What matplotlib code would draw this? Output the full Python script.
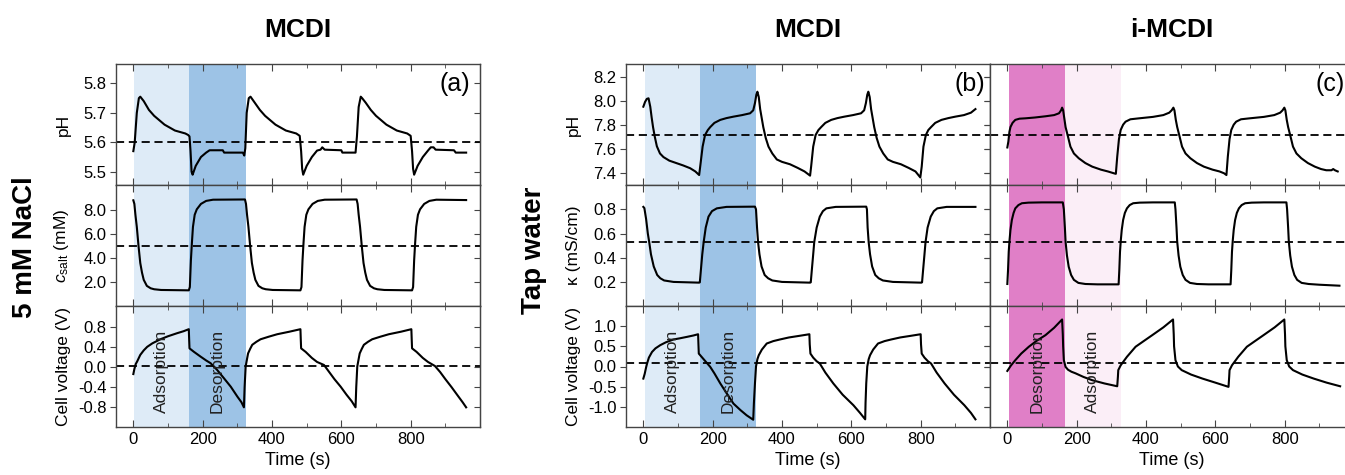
import matplotlib
matplotlib.use("Agg")
import matplotlib.pyplot as plt
from matplotlib.ticker import FixedLocator, FormatStrFormatter

plt.rcParams['font.family'] = ['Liberation Sans', 'DejaVu Sans']
plt.rcParams['axes.unicode_minus'] = False
plt.rcParams['mathtext.fontset'] = 'custom'
plt.rcParams['mathtext.rm'] = 'Liberation Sans'
plt.rcParams['mathtext.it'] = 'Liberation Sans:italic'

# ---------------- data ----------------
# (a) MCDI, 5 mM NaCl
t_ph_a = [0, 4, 10, 16, 20, 30, 45, 60, 75, 90, 105, 120, 135, 150, 158, 162, 165, 168, 171,
          180, 195, 210, 220, 258, 262, 316, 320, 323, 327, 333, 338,
          350, 365, 380, 395, 410, 425, 440, 455, 470, 480, 484, 487, 490, 500, 515, 530, 540,
          545, 552, 600, 603, 641, 645, 650, 656,
          660, 670, 685, 700, 715, 730, 745, 760, 775, 790, 800, 804, 807, 810, 820, 835, 850,
          858, 866, 872, 925, 930, 960]
ph_a = [5.57, 5.60, 5.70, 5.75, 5.755, 5.74, 5.71, 5.69, 5.675, 5.66, 5.65, 5.64, 5.635, 5.63,
        5.625, 5.62, 5.57, 5.50, 5.49, 5.52, 5.55, 5.565, 5.573, 5.573, 5.565, 5.565, 5.555,
        5.58, 5.70, 5.75, 5.755,
        5.735, 5.71, 5.69, 5.675, 5.66, 5.65, 5.64, 5.635, 5.63, 5.622, 5.57, 5.51, 5.49, 5.52,
        5.55, 5.572, 5.575, 5.583, 5.575, 5.573, 5.565, 5.565, 5.62, 5.72, 5.755,
        5.75, 5.735, 5.71, 5.69, 5.675, 5.66, 5.65, 5.64, 5.635, 5.63, 5.622, 5.57, 5.51, 5.49,
        5.52, 5.55, 5.572, 5.583, 5.583, 5.575, 5.573, 5.565, 5.565]

t_c_a = [0, 3, 6, 10, 15, 20, 25, 30, 39, 50, 60, 80, 160,
         163, 166, 169, 172, 177, 183, 195, 210, 230, 322,
         325, 328, 332, 337, 342, 347, 352, 361, 372, 382, 402, 482,
         485, 488, 491, 494, 499, 505, 517, 532, 552, 644,
         647, 650, 654, 659, 664, 669, 674, 683, 694, 704, 724, 804,
         807, 810, 813, 816, 821, 827, 839, 854, 874, 960]
c_a = [8.8, 8.5, 7.6, 6.6, 5.0, 3.6, 2.8, 2.2, 1.7, 1.5, 1.42, 1.36, 1.33,
       1.6, 3.8, 5.3, 6.6, 7.6, 8.05, 8.5, 8.75, 8.85, 8.87,
       8.5, 7.6, 6.6, 5.0, 3.6, 2.8, 2.2, 1.7, 1.5, 1.42, 1.36, 1.33,
       1.6, 3.8, 5.3, 6.6, 7.6, 8.05, 8.5, 8.75, 8.85, 8.87,
       8.5, 7.6, 6.6, 5.0, 3.6, 2.8, 2.2, 1.7, 1.5, 1.42, 1.36, 1.33,
       1.6, 3.8, 5.3, 6.6, 7.6, 8.05, 8.5, 8.75, 8.85, 8.82]

t_v_a = [0, 3, 7, 11, 20, 30, 40, 55, 78, 100, 126, 145, 160, 161, 162,
         175, 194, 210, 223, 242, 261, 281, 300, 312, 319,
         321, 324, 328, 331, 337, 343, 355, 367, 390, 415, 450, 482, 483, 484,
         497, 515, 530, 550, 565, 580, 598, 615, 630, 641,
         643, 646, 650, 653, 659, 665, 677, 689, 712, 737, 772, 802, 803, 804,
         817, 835, 850, 870, 885, 900, 918, 935, 950, 960]
v_a = [-0.14, -0.04, 0.06, 0.11, 0.24, 0.33, 0.40, 0.47, 0.55, 0.61, 0.67, 0.71, 0.75, 0.55, 0.37,
       0.30, 0.206, 0.13, 0.075, -0.06, -0.22, -0.39, -0.586, -0.70, -0.80,
       -0.40, 0.01, 0.16, 0.27, 0.36, 0.44, 0.50, 0.55, 0.60, 0.65, 0.70, 0.75, 0.55, 0.37,
       0.30, 0.18, 0.10, 0.04, -0.10, -0.24, -0.39, -0.55, -0.68, -0.80,
       -0.40, 0.01, 0.16, 0.27, 0.36, 0.44, 0.50, 0.55, 0.60, 0.65, 0.70, 0.75, 0.55, 0.37,
       0.30, 0.18, 0.10, 0.02, -0.10, -0.24, -0.40, -0.56, -0.70, -0.80]

# (b) MCDI, tap water
t_ph_b = [0, 5, 10, 15, 20, 24, 28, 33, 39, 48, 58, 75, 97, 115, 135, 150, 161,
          164, 171, 178, 186, 193, 205, 222, 240, 260, 285, 308, 317, 322, 326, 329, 333,
          337, 346, 353, 361, 372, 385, 400, 423, 445, 465, 481,
          484, 490, 497, 505, 513, 525, 542, 560, 580, 605, 628, 637, 642, 646, 649, 653,
          657, 666, 673, 681, 692, 705, 720, 743, 765, 785, 799,
          803, 808, 815, 822, 830, 842, 860, 880, 900, 925, 945, 958]
ph_b = [7.95, 7.99, 8.015, 8.02, 7.95, 7.86, 7.78, 7.70, 7.62, 7.56, 7.53, 7.50, 7.478, 7.46,
        7.437, 7.41, 7.38,
        7.45, 7.617, 7.714, 7.755, 7.78, 7.815, 7.84, 7.855, 7.867, 7.88, 7.895, 7.92, 7.98,
        8.05, 8.075, 8.03,
        7.93, 7.78, 7.69, 7.617, 7.56, 7.51, 7.49, 7.47, 7.44, 7.41, 7.375,
        7.45, 7.617, 7.714, 7.755, 7.78, 7.815, 7.84, 7.855, 7.867, 7.88, 7.895, 7.92, 7.98,
        8.05, 8.075, 8.03,
        7.93, 7.78, 7.69, 7.617, 7.56, 7.51, 7.49, 7.47, 7.44, 7.41, 7.36,
        7.45, 7.617, 7.714, 7.755, 7.78, 7.815, 7.84, 7.855, 7.867, 7.88, 7.90, 7.93]

t_k_b = [0, 3, 8, 13, 17, 22, 30, 40, 49, 60, 87, 161,
         163, 166, 170, 174, 180, 188, 198, 212, 240, 322,
         325, 328, 331, 335, 341, 350, 360, 372, 400, 481,
         483, 486, 490, 493, 500, 509, 518, 528, 555, 643,
         645, 647, 650, 654, 660, 669, 679, 691, 720, 802,
         804, 807, 811, 814, 820, 829, 838, 848, 875, 958]
k_b = [0.82, 0.81, 0.72, 0.60, 0.53, 0.43, 0.33, 0.26, 0.233, 0.215, 0.203, 0.197,
       0.20, 0.30, 0.43, 0.53, 0.65, 0.74, 0.785, 0.808, 0.82, 0.822,
       0.80, 0.65, 0.53, 0.43, 0.33, 0.26, 0.233, 0.215, 0.203, 0.197,
       0.20, 0.30, 0.43, 0.53, 0.65, 0.74, 0.785, 0.808, 0.82, 0.822,
       0.80, 0.65, 0.53, 0.43, 0.33, 0.26, 0.233, 0.215, 0.203, 0.197,
       0.20, 0.30, 0.43, 0.53, 0.65, 0.74, 0.785, 0.808, 0.82, 0.82]

t_v_b = [0, 4, 8, 11, 16, 25, 35, 49, 65, 87, 106, 126, 145, 158, 159, 160,
         170, 180, 193, 205, 222, 240, 260, 280, 298, 310, 317,
         319, 322, 325, 329, 333, 342, 356, 375, 394, 420, 450, 479, 480, 482,
         490, 500, 509, 525, 548, 575, 606, 625, 640,
         641, 643, 646, 650, 654, 663, 677, 696, 715, 741, 771, 800, 801, 803,
         811, 821, 830, 846, 869, 896, 926, 945, 958]
v_b = [-0.30, -0.18, -0.02, 0.08, 0.22, 0.36, 0.45, 0.53, 0.60, 0.67, 0.70, 0.735, 0.77, 0.80,
       0.55, 0.32,
       0.22, 0.12, -0.01, -0.17, -0.42, -0.66, -0.92, -1.08, -1.21, -1.28, -1.32,
       -0.90, -0.42, 0.0, 0.18, 0.28, 0.42, 0.57, 0.63, 0.67, 0.72, 0.76, 0.80, 0.55, 0.32,
       0.22, 0.13, 0.075, -0.15, -0.42, -0.70, -0.96, -1.15, -1.31,
       -0.90, -0.42, 0.0, 0.18, 0.28, 0.42, 0.57, 0.63, 0.67, 0.72, 0.76, 0.80, 0.55, 0.32,
       0.22, 0.13, 0.075, -0.15, -0.42, -0.70, -0.96, -1.15, -1.31]

# (c) i-MCDI, tap water
t_ph_c = [0, 3, 6, 9, 15, 23, 35, 52, 80, 110, 135, 149, 155, 158,
          161, 165, 168, 175, 182, 192, 206, 225, 245, 270, 290, 307, 313,
          317, 322, 327, 334, 341, 355, 380, 420, 450, 467, 474, 479,
          482, 486, 490, 497, 504, 514, 528, 547, 567, 592, 612, 625, 632,
          636, 641, 646, 653, 660, 674, 699, 740, 770, 787, 794, 799,
          802, 806, 810, 817, 824, 834, 848, 867, 887, 905, 920, 935, 940, 945, 953]
ph_c = [7.61, 7.66, 7.74, 7.78, 7.815, 7.84, 7.85, 7.853, 7.86, 7.87, 7.88, 7.895, 7.92, 7.942,
        7.92, 7.84, 7.78, 7.70, 7.617, 7.56, 7.52, 7.48, 7.45, 7.425, 7.41, 7.395, 7.39,
        7.533, 7.68, 7.756, 7.80, 7.825, 7.845, 7.853, 7.865, 7.88, 7.90, 7.92, 7.942,
        7.92, 7.84, 7.78, 7.70, 7.617, 7.56, 7.52, 7.48, 7.45, 7.425, 7.41, 7.395, 7.38,
        7.533, 7.68, 7.756, 7.80, 7.825, 7.845, 7.853, 7.865, 7.88, 7.90, 7.92, 7.942,
        7.92, 7.84, 7.78, 7.70, 7.617, 7.56, 7.52, 7.48, 7.45, 7.43, 7.42, 7.42, 7.43, 7.42, 7.41]

t_k_c = [0, 2, 4, 6, 9, 13, 18, 23, 32, 42, 61, 100, 160,
         163, 166, 168, 172, 177, 184, 192, 205, 225, 260, 321,
         323, 325, 327, 330, 334, 339, 345, 353, 363, 382, 420, 483,
         485, 488, 490, 494, 499, 506, 514, 527, 547, 580, 644,
         646, 648, 650, 653, 657, 662, 668, 676, 686, 705, 740, 805,
         807, 810, 812, 816, 821, 828, 836, 849, 869, 900, 958]
k_c = [0.186, 0.30, 0.45, 0.534, 0.63, 0.712, 0.77, 0.808, 0.835, 0.85, 0.855, 0.857, 0.857,
       0.80, 0.65, 0.534, 0.42, 0.328, 0.26, 0.22, 0.195, 0.186, 0.183, 0.183,
       0.30, 0.45, 0.534, 0.63, 0.712, 0.77, 0.808, 0.835, 0.85, 0.855, 0.857, 0.857,
       0.80, 0.65, 0.534, 0.42, 0.328, 0.26, 0.22, 0.195, 0.186, 0.183, 0.183,
       0.30, 0.45, 0.534, 0.63, 0.712, 0.77, 0.808, 0.835, 0.85, 0.855, 0.857, 0.857,
       0.80, 0.65, 0.534, 0.42, 0.328, 0.26, 0.22, 0.195, 0.186, 0.18, 0.172]

t_v_c = [0, 10, 23, 40, 62, 85, 110, 135, 158, 160, 161, 163,
         168, 175, 185, 197, 220, 245, 280, 317,
         319, 320, 327, 345, 370, 395, 418, 450, 478, 480, 481, 485,
         492, 503, 530, 563, 600, 638,
         640, 641, 648, 666, 691, 716, 739, 771, 799, 801, 802, 806,
         813, 824, 851, 884, 921, 960]
v_c = [-0.11, 0.02, 0.157, 0.32, 0.49, 0.64, 0.777, 0.96, 1.166, 0.80, 0.50, 0.157,
       -0.01, -0.08, -0.13, -0.17, -0.26, -0.34, -0.42, -0.49,
       -0.25, -0.09, 0.03, 0.24, 0.49, 0.64, 0.777, 0.97, 1.166, 0.80, 0.50, 0.157,
       0.0, -0.09, -0.20, -0.30, -0.40, -0.505,
       -0.25, -0.09, 0.03, 0.24, 0.49, 0.64, 0.777, 0.97, 1.166, 0.80, 0.50, 0.157,
       0.0, -0.09, -0.20, -0.30, -0.40, -0.49]

# phase boundaries (s) and dashed reference levels
edges_a = [3, 162, 324]
edges_b = [6, 164, 325]
edges_c = [6, 165, 327]
ref_a = [5.6, 5.05, 0.02]
ref_bc = [7.71, 0.53, 0.09]

phase_a = ["Adsorption", "Desorption"]
phase_c = ["Desorption", "Adsorption"]

xticks_major = [0, 200, 400, 600, 800]
xticks_minor = [100, 300, 500, 700, 900]

# ---------------- figure ----------------
W, H = 1345, 475
fig = plt.figure(figsize=(W / 100, H / 100), dpi=100)

LIGHT_BLUE = '#deebf7'
DARK_BLUE = '#9dc3e6'
MAGENTA = '#e07fc7'
PINK = '#fbeef7'
SPINE = '#444444'

col_x = [116, 626, 990]
row_top = [64, 185, 306]
ax_w, ax_h = 364, 121

ylims_a = [(5.455, 5.866), (0.03, 10.07), (-1.19, 1.21)]
yticks_a = [[5.5, 5.6, 5.7, 5.8], [2, 4, 6, 8], [-0.8, -0.4, 0.0, 0.4, 0.8]]
ylims_b = [(7.297, 8.306), (0.005, 1.0), (-1.5, 1.5)]
yticks_b = [[7.4, 7.6, 7.8, 8.0, 8.2], [0.2, 0.4, 0.6, 0.8], [-1.0, -0.5, 0.0, 0.5, 1.0]]
ylabels_a = ["pH", r"$c_{\mathrm{salt}}$ (mM)", "Cell voltage (V)"]
ylabels_b = ["pH", "κ (mS/cm)", "Cell voltage (V)"]

columns = [
    dict(x=col_x[0], edges=edges_a, colors=(LIGHT_BLUE, DARK_BLUE), refs=ref_a,
         ylims=ylims_a, yticks=yticks_a, ylabels=ylabels_a, phases=phase_a,
         data=[(t_ph_a, ph_a), (t_c_a, c_a), (t_v_a, v_a)], letter="(a)", lx=0.973),
    dict(x=col_x[1], edges=edges_b, colors=(LIGHT_BLUE, DARK_BLUE), refs=ref_bc,
         ylims=ylims_b, yticks=yticks_b, ylabels=ylabels_b, phases=phase_a,
         data=[(t_ph_b, ph_b), (t_k_b, k_b), (t_v_b, v_b)], letter="(b)", lx=0.986),
    dict(x=col_x[2], edges=edges_c, colors=(MAGENTA, PINK), refs=ref_bc,
         ylims=ylims_b, yticks=yticks_b, ylabels=None, phases=phase_c,
         data=[(t_ph_c, ph_c), (t_k_c, k_c), (t_v_c, v_c)], letter="(c)", lx=0.975),
]

for col in columns:
    for r in range(3):
        bottom = (H - row_top[r] - ax_h) / H
        ax = fig.add_axes([col['x'] / W, bottom, ax_w / W, ax_h / H])
        e = col['edges']
        ax.axvspan(e[0], e[1], color=col['colors'][0], lw=0, zorder=0)
        ax.axvspan(e[1], e[2], color=col['colors'][1], lw=0, zorder=0)
        ax.axhline(col['refs'][r], color='k', lw=1.3, ls=(0, (4.5, 2.6)), zorder=2)
        t, v = col['data'][r]
        ax.plot(t, v, color='k', lw=1.5, zorder=3)

        ax.set_xlim(-50, 1000)
        ax.set_ylim(*col['ylims'][r])
        ax.xaxis.set_major_locator(FixedLocator(xticks_major))
        ax.xaxis.set_minor_locator(FixedLocator(xticks_minor))
        ax.tick_params(axis='x', which='both', direction='in', top=True, bottom=True,
                       labelsize=12, color=SPINE)
        ax.tick_params(axis='x', which='major', length=5)
        ax.tick_params(axis='x', which='minor', length=3)
        ax.set_yticks(col['yticks'][r])
        ax.tick_params(axis='y', direction='out', right=False, length=4, pad=3,
                       labelsize=12, color=SPINE)
        ax.yaxis.set_major_formatter(FormatStrFormatter('%.1f'))
        sec = ax.secondary_yaxis('right')
        sec.set_yticks(col['yticks'][r])
        sec.tick_params(direction='in', length=4, labelright=False, color=SPINE)
        sec.spines['right'].set_color(SPINE)
        for sp in ax.spines.values():
            sp.set_color(SPINE)
            sp.set_linewidth(1.0)

        if col['ylabels'] is None:
            ax.tick_params(axis='y', labelleft=False)
        else:
            ax.set_ylabel(col['ylabels'][r], fontsize=12.5)
            ax.yaxis.set_label_coords(-0.123, 0.5)

        if r < 2:
            ax.tick_params(axis='x', labelbottom=False)
        else:
            ax.set_xlabel("Time (s)", fontsize=13, labelpad=4)
            mids = [(e[0] + e[1]) / 2, (e[1] + e[2]) / 2]
            for m, name in zip(mids, col['phases']):
                ax.text(m, 0.115, name, rotation=90, ha='center', va='bottom',
                        transform=ax.get_xaxis_transform(), fontsize=12.5,
                        color='#222222', zorder=4)
        if r == 0:
            ax.text(col['lx'], 0.93, col['letter'], transform=ax.transAxes,
                    ha='right', va='top', fontsize=18)

# column titles and row labels
fig.text((col_x[0] + ax_w / 2) / W, 0.937, "MCDI", ha='center', va='center',
         fontsize=19, fontweight='bold')
fig.text((col_x[1] + ax_w / 2) / W, 0.937, "MCDI", ha='center', va='center',
         fontsize=19, fontweight='bold')
fig.text((col_x[2] + ax_w / 2) / W, 0.937, "i-MCDI", ha='center', va='center',
         fontsize=19, fontweight='bold')
fig.text(25 / W, 0.48, "5 mM NaCl", rotation=90, ha='center', va='center',
         fontsize=20, fontweight='bold')
fig.text(534 / W, 0.474, "Tap water", rotation=90, ha='center', va='center',
         fontsize=20, fontweight='bold')

fig.savefig("out.png", dpi=100)
